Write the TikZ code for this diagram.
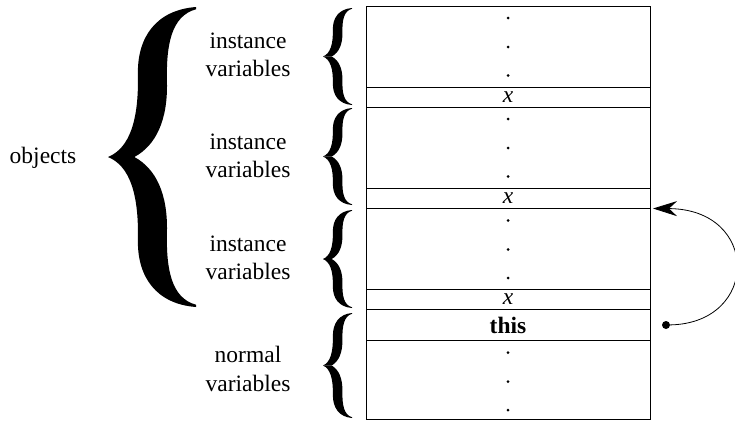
\documentclass[tikz,border=0pt]{standalone}
\usepackage{fontspec}
\setmainfont{Liberation Serif}
\usetikzlibrary{positioning, arrows.meta}

\begin{document}
\begin{tikzpicture}[x=1pt, y=-1pt, node distance=0pt, font=\fontsize{23.5}{28.5}\selectfont]

        % Define custom styles for cells, labels and braces
        \tikzset{
          cell/.style={draw, line width=0.9pt, minimum width=284pt, inner sep=0pt, outer sep=0pt},
          varlabel/.style={align=center, inner sep=0pt},
          curlybrace/.pic={
            \fill (1,-1) .. controls (0.55,-0.98) and (0.33,-0.8) .. (0.34,-0.55)
                  .. controls (0.35,-0.25) and (0.25,-0.06) .. (0,0) -- (0.3,0)
                  .. controls (0.55,-0.08) and (0.68,-0.25) .. (0.67,-0.5)
                  .. controls (0.66,-0.75) and (0.72,-0.94) .. (1,-0.985) -- cycle;
            \fill (1,1) .. controls (0.55,0.98) and (0.33,0.8) .. (0.34,0.55)
                  .. controls (0.35,0.25) and (0.25,0.06) .. (0,0) -- (0.3,0)
                  .. controls (0.55,0.08) and (0.68,0.25) .. (0.67,0.5)
                  .. controls (0.66,0.75) and (0.72,0.94) .. (1,0.985) -- cycle;
          }
        }

        \useasboundingbox (0,0) rectangle (735,421);

        % Stack of memory cells
        \node[cell, minimum height=81pt, anchor=north] (vars1) at (508,6) {};
        \node[cell, minimum height=20pt, below=of vars1] (x1) {\textit{x}};
        \node[cell, minimum height=81pt, below=of x1] (vars2) {};
        \node[cell, minimum height=20.5pt, below=of vars2] (x2) {\textit{x}};
        \node[cell, minimum height=81pt, below=of x2] (vars3) {};
        \node[cell, minimum height=20pt, below=of vars3] (x3) {\textit{x}};
        \node[cell, minimum height=31pt, below=of x3] (this) {\textbf{this}};
        \node[cell, minimum height=79pt, below=of this] (locals) {};

        % Vertical dots in the open cells
        \foreach \r in {vars1, vars2, vars3, locals}
          \foreach \d in {12, 41, 69.5}
            \fill ([yshift=-\d pt]\r.north) circle (1.5pt);

        % Braces
        \pic[xscale=88, yscale=150] at (108,157) {curlybrace};
        \pic[xscale=29, yscale=48.5] at (323,56.5) {curlybrace};
        \pic[xscale=29, yscale=48.5] at (323,156.5) {curlybrace};
        \pic[xscale=29, yscale=49] at (323,259) {curlybrace};
        \pic[xscale=29, yscale=52.5] at (323,365.5) {curlybrace};

        % Labels
        \node[anchor=base] (objlab) at (43,163) {objects};
        \node[varlabel] (inst1) at (248,55) {instance\\variables};
        \node[varlabel] (inst2) at (248,156) {instance\\variables};
        \node[varlabel] (inst3) at (248,258) {instance\\variables};
        \node[varlabel] (normal) at (248,369) {normal\\variables};

        % Pointer from this to the object
        \coordinate (ptr) at ([xshift=3pt]x2.south east);
        \node[circle, fill, inner sep=0pt, minimum size=8pt] (thisdot) at ([xshift=16pt]this.east) {};
        \draw[line width=0.8pt, -{Stealth[length=24pt, width=15pt, inset=8pt]}] (thisdot) .. controls (760,323) and (760,209) .. (ptr);

    \end{tikzpicture}
\end{document}
